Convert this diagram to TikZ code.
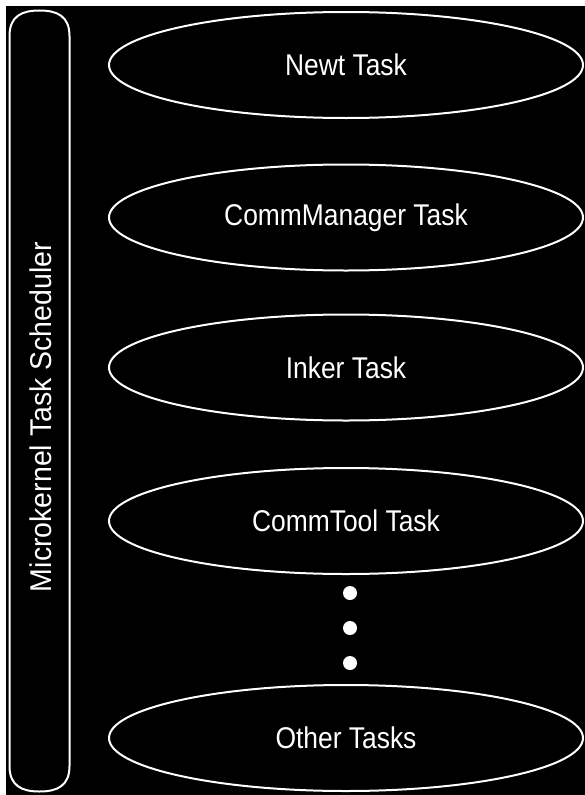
\documentclass[tikz,border=0pt]{standalone}
\usepackage{fontspec}
\setmainfont{Liberation Sans}
\usetikzlibrary{shapes.geometric}
\begin{document}
\begin{tikzpicture}[x=1pt,y=-1pt,
  outline/.style={draw=white,line width=2pt},
  task/.style={outline,ellipse,minimum width=474pt,minimum height=106pt,inner sep=0pt,
    text=white,font=\fontsize{30}{32}\selectfont},
  dotmark/.style={circle,fill=white,minimum size=14pt,inner sep=0pt},
  lbl/.style={text=white,font=\fontsize{30}{32}\selectfont}]
\useasboundingbox (0,0) rectangle (584,795);
\fill[white] (0,0) rectangle (584,795);
\fill[black] (6,6) rectangle (590,800);
% scheduler box
\draw[outline] (9.5,36) .. controls (9.5,16) and (22,10.5) .. (39.5,10.5)
  .. controls (57,10.5) and (69.5,16) .. (69.5,36) -- (69.5,766)
  .. controls (69.5,786) and (57,791.5) .. (39.5,791.5)
  .. controls (22,791.5) and (9.5,786) .. (9.5,766) -- cycle;
\node[lbl,rotate=90] (sched) at (41,417) {\scalebox{0.95}[1]{Microkernel Task Scheduler}};
% tasks
\node[task] (newt) at (346,65) {\scalebox{0.88}[1]{Newt Task}};
\node[task] (comm) at (346,217.5) {\scalebox{0.88}[1]{CommManager Task}};
\node[task] (inker) at (346,367.5) {\scalebox{0.88}[1]{Inker Task}};
\node[task] (tool) at (346,521) {\scalebox{0.88}[1]{CommTool Task}};
\node[task] (other) at (346,738) {\scalebox{0.88}[1]{Other Tasks}};
% dots
\node[dotmark] (d1) at (350,593) {};
\node[dotmark] (d2) at (350,628) {};
\node[dotmark] (d3) at (350,663) {};
\end{tikzpicture}
\end{document}
